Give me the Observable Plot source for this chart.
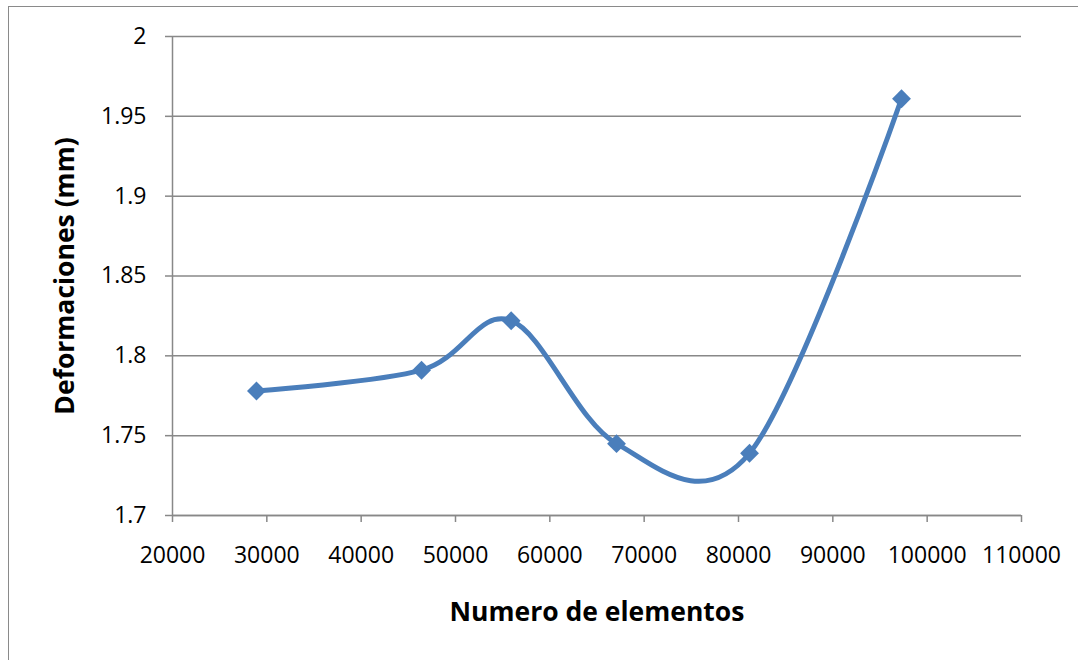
<!DOCTYPE html>
<html>
<head>
<meta charset="utf-8">
<script src="https://cdn.jsdelivr.net/npm/d3@7"></script>
<script src="https://cdn.jsdelivr.net/npm/@observablehq/plot@0.6"></script>
<style>
  html, body { margin: 0; padding: 0; background: #fff; overflow: hidden; }
  #wrap { position: relative; width: 1078px; height: 660px; overflow: hidden; }
  #border { position: absolute; left: 8px; top: 6px; width: 1200px; height: 800px; border: 1.5px solid #8a8a8a; box-sizing: border-box; pointer-events: none; }
  #chart { position: absolute; left: 0; top: 0; }
</style>
</head>
<body>
<div id="wrap"><div id="border"></div><div id="chart"></div></div>
<script>
const elements = [28900, 46400, 55900, 67070, 81170, 97280];
const deformations = [1.778, 1.791, 1.822, 1.745, 1.739, 1.961];
const xTicks = [20000, 30000, 40000, 50000, 60000, 70000, 80000, 90000, 100000, 110000];
const yTicks = [1.7, 1.75, 1.8, 1.85, 1.9, 1.95, 2];
const xTitle = "Numero de elementos";
const yTitle = "Deformaciones (mm)";

const data = elements.map((x, i) => ({x, y: deformations[i]}));
const grey = "#888888";
const blue = "#4a7ebb";
const font = "'Open Sans', 'Noto Sans', sans-serif";

const chart = Plot.plot({
  width: 1078,
  height: 660,
  marginLeft: 172,
  marginRight: 57,
  marginTop: 36,
  marginBottom: 145,
  style: {fontFamily: font, background: "transparent"},
  x: {domain: [20000, 110000]},
  y: {domain: [1.7, 2]},
  marks: [
    Plot.gridY(yTicks, {stroke: grey, strokeOpacity: 1, strokeWidth: 1.5}),
    Plot.ruleX([20000], {stroke: grey, strokeWidth: 1.5}),
    Plot.ruleY([1.7], {stroke: grey, strokeWidth: 1.5}),
    Plot.axisY(yTicks, {
      tickSize: 7, tickPadding: 19, stroke: grey, strokeWidth: 1.5, fill: "#000",
      fontSize: 23, label: null, tickFormat: d => String(+d.toFixed(2))
    }),
    Plot.axisX(xTicks, {
      tickSize: 7, tickPadding: 24, stroke: grey, strokeWidth: 1.5, fill: "#000",
      fontSize: 23, label: null, tickFormat: d => String(d)
    }),
    Plot.line(data, {x: "x", y: "y", curve: "cardinal", tension: 0, stroke: blue, strokeWidth: 5}),
    Plot.dot(data, {x: "x", y: "y", symbol: "diamond2", r: 8.5, fill: blue, stroke: "none"}),
    Plot.text([xTitle], {text: d => d, frameAnchor: "bottom", textAnchor: "middle", dy: 97, lineAnchor: "middle", fontSize: 26.5, fontWeight: "bold", fill: "#000"}),
    Plot.text([yTitle], {text: d => d, frameAnchor: "left", textAnchor: "middle", dx: -107, rotate: -90, lineAnchor: "middle", fontSize: 26.5, fontWeight: "bold", fill: "#000"})
  ]
});
document.getElementById("chart").appendChild(chart);
</script>
</body>
</html>
